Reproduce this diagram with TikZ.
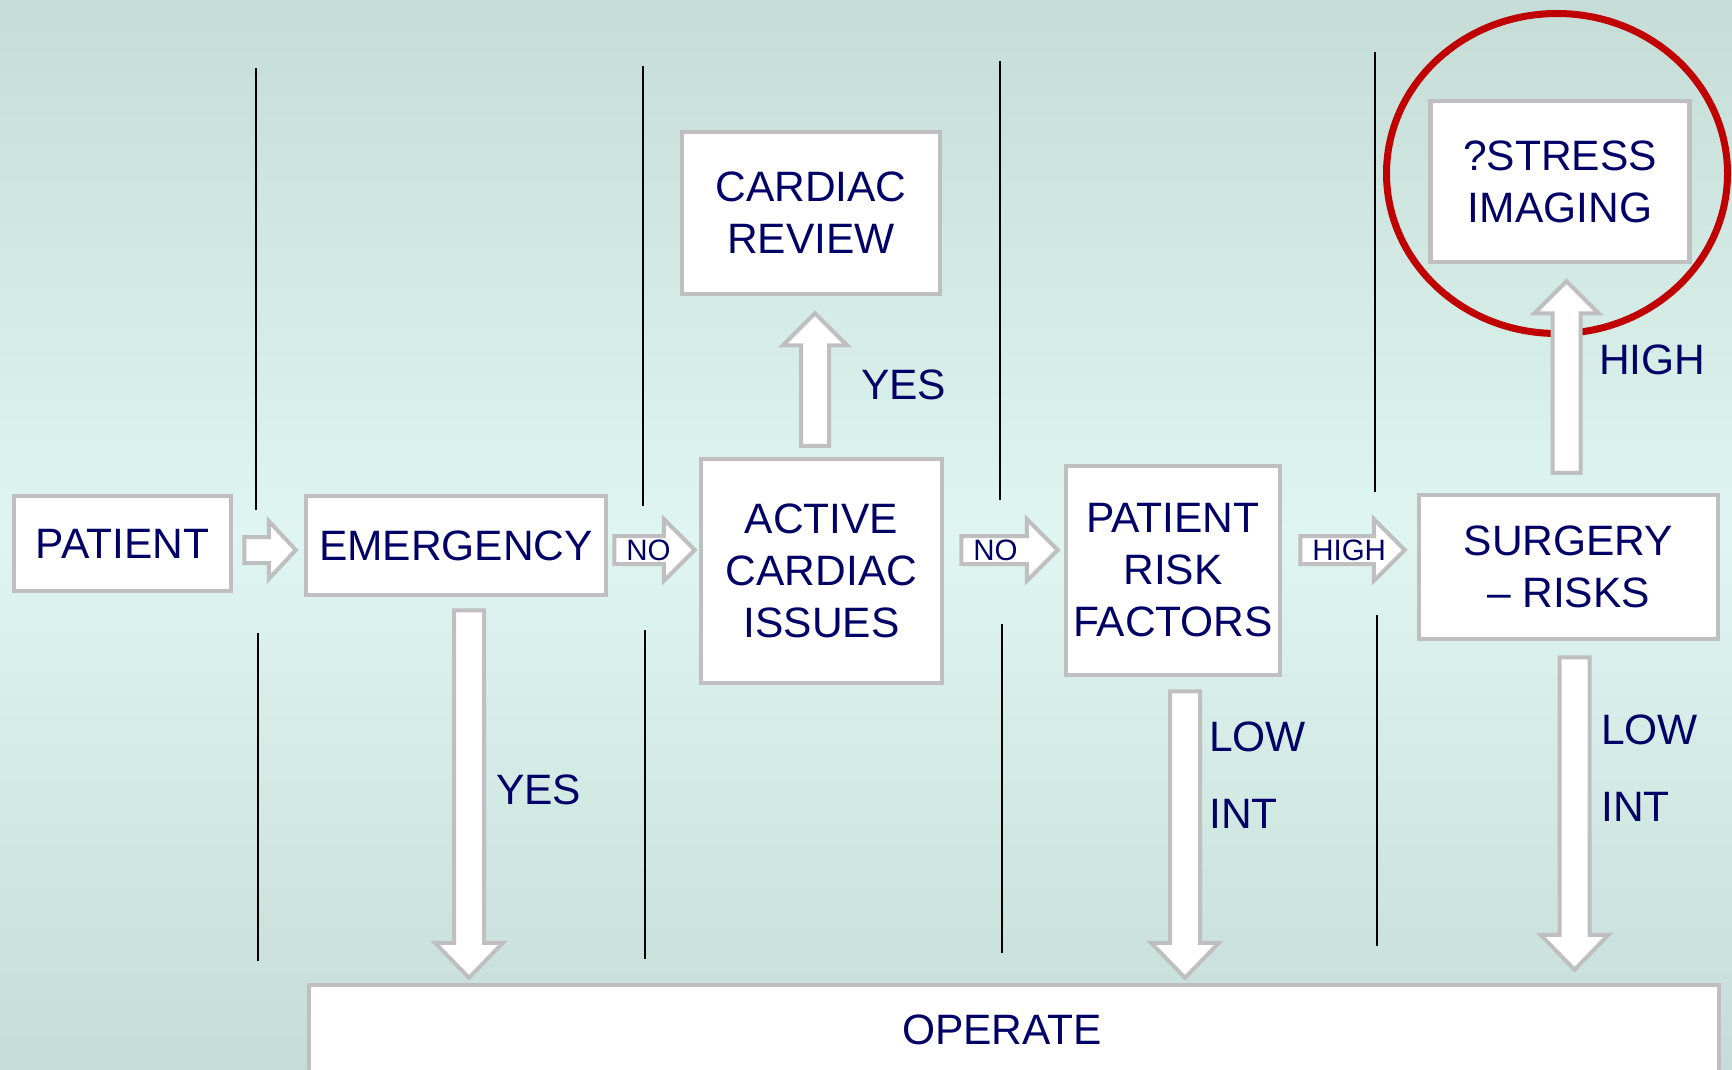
\documentclass[tikz,border=0pt]{standalone}
\usepackage{fontspec}
\setmainfont{Liberation Sans}
\usetikzlibrary{calc}

\definecolor{navy}{RGB}{0,0,102}
\definecolor{boxgrey}{RGB}{191,191,191}
\definecolor{ringred}{RGB}{192,0,0}
\definecolor{bgdark}{RGB}{198,221,215}
\definecolor{bglight}{RGB}{222,245,240}

\tikzset{
  stepbox/.style={draw=boxgrey, line width=4.5pt, fill=white, text=navy, align=center,
      font=\fontsize{42.5}{52}\selectfont, inner sep=0pt},
  blockarr/.style={draw=boxgrey, line width=4pt, fill=white, line join=miter},
  arrowlabel/.style={text=navy, font=\fontsize{29.5}{33}\selectfont, inner sep=0pt, anchor=west},
  sidelabel/.style={text=navy, font=\fontsize{42.5}{52}\selectfont, inner sep=0pt, anchor=west},
  divider/.style={line width=1.6pt, black},
}

% hollow block arrow: tail, tip, shaft half width, head half width, head length, label
\newcommand{\blockarrow}[6]{%
  \draw[blockarr] let \p1=(#1), \p2=(#2), \n1={veclen(\x2-\x1,\y2-\y1)},
      \n2={(\x2-\x1)/\n1}, \n3={(\y2-\y1)/\n1} in
    ({\x1-#3*(\n3)},{\y1+#3*(\n2)})
    -- ({\x2-#5*(\n2)-#3*(\n3)},{\y2-#5*(\n3)+#3*(\n2)})
    -- ({\x2-#5*(\n2)-#4*(\n3)},{\y2-#5*(\n3)+#4*(\n2)})
    -- (\p2)
    -- ({\x2-#5*(\n2)+#4*(\n3)},{\y2-#5*(\n3)-#4*(\n2)})
    -- ({\x2-#5*(\n2)+#3*(\n3)},{\y2-#5*(\n3)-#3*(\n2)})
    -- ({\x1+#3*(\n3)},{\y1-#3*(\n2)}) -- cycle
    ({\x1+10*(\n2)},{\y1+10*(\n3)}) node[arrowlabel] {#6};
}

\begin{document}
\begin{tikzpicture}[x=1pt, y=-1pt]
  \useasboundingbox (0,0) rectangle (1732,1070);
  \fill[top color=bgdark, bottom color=bgdark, middle color=bglight] (0,0) rectangle (1732,1070);

  % column dividers
  \foreach \xa/\ya/\yb/\xb/\yc/\yd in {256/68/510/258/633/961, 643/66/506/645/630/959,
      1000/61/500/1002/624/953, 1375/52/492/1377/615/946}{
      \draw[divider] (\xa,\ya) -- (\xa,\yb);
      \draw[divider] (\xb,\yc) -- (\xb,\yd);
    }

  \coordinate (row) at (0,550);

  \node[stepbox, minimum width=217pt, minimum height=95pt] (patient) at (122.5,543.5) {PATIENT};
  \node[stepbox, minimum width=300pt, minimum height=99pt] (emergency) at (456,545.5) {EMERGENCY};
  \node[stepbox, minimum width=241pt, minimum height=224pt] (active) at (821.5,571) {ACTIVE\\CARDIAC\\ISSUES};
  \node[stepbox, minimum width=258pt, minimum height=162pt] (review) at (811,213) {CARDIAC\\REVIEW};
  \node[stepbox, minimum width=214pt, minimum height=209pt] (risk) at (1173,570.5) {PATIENT\\RISK\\FACTORS};
  \node[stepbox, minimum width=299pt, minimum height=144pt] (surgery) at (1568.5,567) {SURGERY\\– RISKS};
  \node[stepbox, minimum width=259pt, minimum height=161pt] (stress) at (1560,181.5) {?STRESS\\IMAGING};
  \node[stepbox, minimum width=1410pt, minimum height=90pt,
      label={[text=navy, font=\fontsize{42.5}{52}\selectfont, xshift=-12pt]center:OPERATE}] (operate) at (1014,1030) {};

  \draw[ringred, line width=7pt] (1557,173.5) ellipse (170.5pt and 160pt);

  % across
  \blockarrow{$(patient.east |- row)+(11,0)$}{$(emergency.west |- row)+(-8,0)$}{13}{29}{27}{}
  \blockarrow{$(emergency.east |- row)+(6,0)$}{$(active.west |- row)+(-4,0)$}{14}{31}{31}{NO}
  \blockarrow{$(active.east |- row)+(17,0)$}{$(risk.west |- row)+(-6,0)$}{14}{31}{31}{NO}
  \blockarrow{$(risk.east |- row)+(18,0)$}{$(surgery.west |- row)+(-12,0)$}{14}{31}{31}{HIGH}

  % up
  \blockarrow{$(active.north -| review.south)+(4,-11)$}{$(review.south)+(4,17)$}{14}{32}{32}{}
  \blockarrow{$(surgery.north)+(-2,-20)$}{$(stress.south -| surgery.north)+(-2,17)$}{14}{32}{32}{}

  % down
  \blockarrow{$(emergency.south)+(13,13)$}{$(operate.north -| emergency.south)+(13,-5)$}{15}{34}{35}{}
  \blockarrow{$(risk.south)+(12,14)$}{$(operate.north -| risk.south)+(12,-5)$}{15}{34}{35}{}
  \blockarrow{$(surgery.south)+(6,16)$}{$(operate.north -| surgery.south)+(6,-13)$}{15}{34}{35}{}

  \node[sidelabel] (yesup) at (861,385) {YES};
  \node[sidelabel] (highup) at (1599,360) {HIGH};
  \node[sidelabel] (yesdown) at (496,790) {YES};
  \node[sidelabel] (lowrisk) at (1209,737) {LOW};
  \node[sidelabel] (intrisk) at (1209,814) {INT};
  \node[sidelabel] (lowsurg) at (1601,730) {LOW};
  \node[sidelabel] (intsurg) at (1601,807) {INT};
\end{tikzpicture}
\end{document}
